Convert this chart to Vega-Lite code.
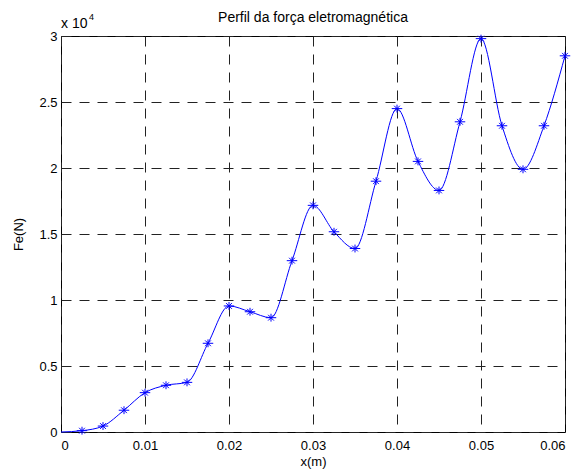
{
  "$schema": "https://vega.github.io/schema/vega-lite/v6.json",
  "autosize": "none",
  "width": 504,
  "height": 396,
  "padding": {"left": 61, "top": 36, "right": 17, "bottom": 38},
  "background": "white",
  "title": {"text": "Perfil da força eletromagnética", "font": "Liberation Sans", "fontSize": 14, "fontWeight": "normal", "color": "black", "offset": -23, "baseline": "alphabetic", "anchor": "middle"},
  "data": {"values": [
    {"x": 0, "fe": 0},
    {"x": 0.0025, "fe": 100},
    {"x": 0.005, "fe": 450},
    {"x": 0.0075, "fe": 1650},
    {"x": 0.01, "fe": 2980},
    {"x": 0.0125, "fe": 3540},
    {"x": 0.015, "fe": 3760},
    {"x": 0.0175, "fe": 6720},
    {"x": 0.02, "fe": 9550},
    {"x": 0.0225, "fe": 9110},
    {"x": 0.025, "fe": 8660},
    {"x": 0.0275, "fe": 12980},
    {"x": 0.03, "fe": 17170},
    {"x": 0.0325, "fe": 15170},
    {"x": 0.035, "fe": 13900},
    {"x": 0.0375, "fe": 19000},
    {"x": 0.04, "fe": 24500},
    {"x": 0.0425, "fe": 20500},
    {"x": 0.045, "fe": 18300},
    {"x": 0.0475, "fe": 23500},
    {"x": 0.05, "fe": 29800},
    {"x": 0.0525, "fe": 23200},
    {"x": 0.055, "fe": 19900},
    {"x": 0.0575, "fe": 23200},
    {"x": 0.06, "fe": 28500}
  ]},
  "encoding": {
    "x": {"field": "x", "type": "quantitative", "scale": {"domain": [0, 0.06], "nice": false, "zero": false},
      "axis": {"title": "x(m)", "values": [0, 0.01, 0.02, 0.03, 0.04, 0.05, 0.06], "labelExpr": "format(datum.value, '~g')", "titlePadding": 3, "labelPadding": 7}},
    "y": {"field": "fe", "type": "quantitative", "scale": {"domain": [0, 30000], "nice": false},
      "axis": {"title": "Fe(N)", "values": [0, 5000, 10000, 15000, 20000, 25000, 30000], "labelExpr": "format(datum.value / 10000, '~g')", "titlePadding": 13, "labelPadding": 4}}
  },
  "layer": [
    {"mark": {"type": "line", "interpolate": "monotone", "color": "#0000FF", "strokeWidth": 1}},
    {"transform": [{"filter": "datum.x > 0"}],
     "mark": {"type": "point", "shape": "M-1,0L1,0M0,-0.75L0,0.75M-0.55,-0.55L0.55,0.55M-0.55,0.55L0.55,-0.55", "filled": false, "stroke": "#0000FF", "strokeWidth": 1, "size": 110, "opacity": 1}},
    {"transform": [{"filter": "datum.x == 0"}],
     "mark": {"type": "text", "text": "x 10", "align": "left", "baseline": "alphabetic", "dy": -8, "font": "Liberation Sans", "fontSize": 14, "color": "black"},
     "encoding": {"x": {"datum": 0}, "y": {"datum": 30000}}},
    {"transform": [{"filter": "datum.x == 0"}],
     "mark": {"type": "text", "text": "4", "align": "left", "baseline": "alphabetic", "dx": 28, "dy": -16, "font": "Liberation Sans", "fontSize": 9, "color": "black"},
     "encoding": {"x": {"datum": 0}, "y": {"datum": 30000}}}
  ],
  "config": {
    "view": {"stroke": "black", "strokeWidth": 1},
    "axis": {
      "grid": true, "gridColor": "#222", "gridDash": [10, 8], "gridOpacity": 1, "gridWidth": 1,
      "domain": false, "ticks": false,
      "labelFont": "Liberation Sans", "labelFontSize": 13, "labelColor": "black",
      "titleFont": "Liberation Sans", "titleFontSize": 13, "titleFontWeight": "normal", "titleColor": "black"
    }
  }
}
